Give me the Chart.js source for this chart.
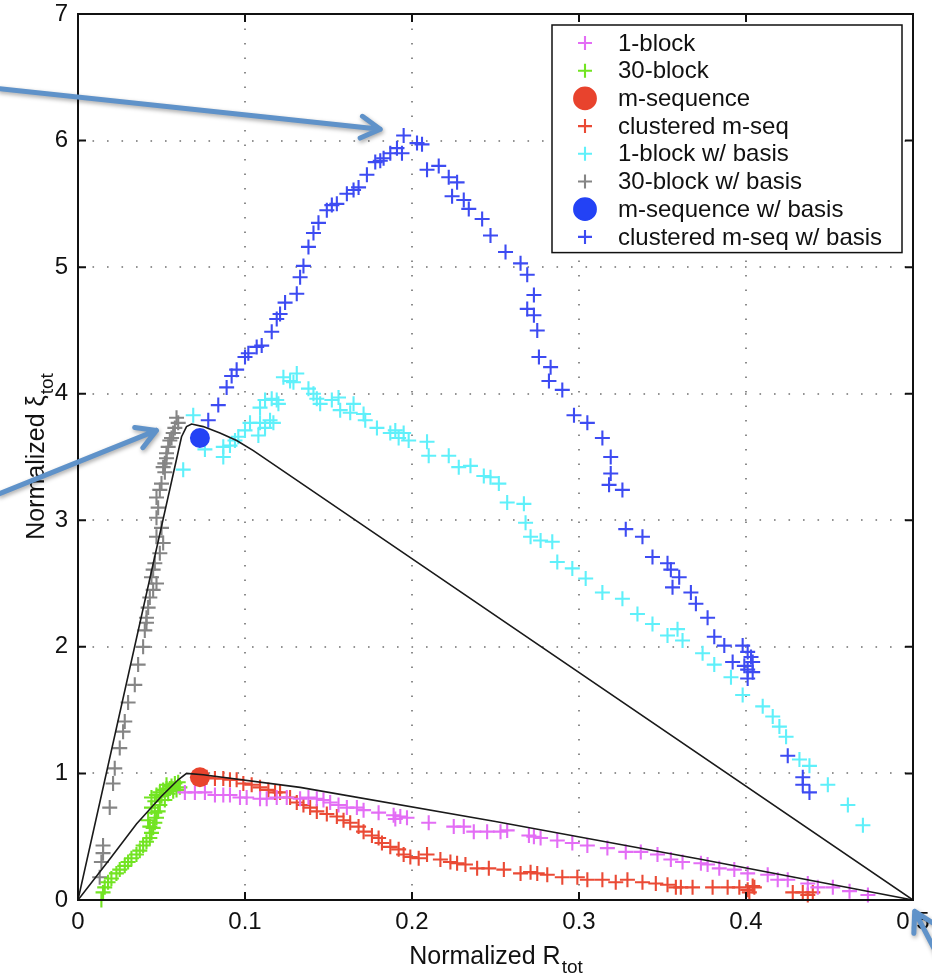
<!DOCTYPE html>
<html>
<head>
<meta charset="utf-8">
<script src="https://cdn.jsdelivr.net/npm/chart.js@4.4.1/dist/chart.umd.min.js"></script>
<style>
  html, body { margin: 0; padding: 0; background: #fff; }
  #wrap { width: 932px; height: 978px; }
</style>
</head>
<body>
<div id="wrap"><canvas id="chart" width="932" height="978"></canvas></div>
<script>
// axis ticks
const xTicks = [0, 0.1, 0.2, 0.3, 0.4, 0.5];
const yTicks = [0, 1, 2, 3, 4, 5, 6, 7];

// series as [R, xi]
const oneBlock = [
  [0.064,0.85],[0.070,0.85],[0.076,0.85],[0.082,0.83],[0.087,0.83],[0.091,0.83],[0.097,0.81],[0.101,0.81],
  [0.109,0.80],[0.113,0.80],[0.119,0.81],[0.125,0.81],[0.133,0.80],[0.138,0.81],[0.143,0.80],[0.147,0.79],
  [0.151,0.77],[0.156,0.75],[0.161,0.73],[0.167,0.73],[0.171,0.71],[0.180,0.69],[0.189,0.67],[0.190,0.64],
  [0.193,0.66],[0.197,0.65],[0.210,0.61],[0.225,0.58],[0.231,0.58],[0.237,0.54],[0.245,0.54],[0.253,0.54],
  [0.257,0.55],[0.270,0.51],[0.273,0.50],[0.277,0.49],[0.287,0.47],[0.296,0.45],[0.305,0.43],[0.317,0.41],
  [0.328,0.38],[0.337,0.38],[0.347,0.36],[0.355,0.32],[0.362,0.30],[0.373,0.29],[0.377,0.28],[0.384,0.25],
  [0.393,0.24],[0.401,0.21],[0.413,0.20],[0.419,0.16],[0.425,0.16],[0.437,0.13],[0.443,0.10],[0.452,0.10],
  [0.462,0.07],[0.473,0.04]
];
const thirtyBlock = [
  [0.014,0.00],[0.015,0.06],[0.016,0.10],[0.018,0.14],[0.020,0.17],[0.023,0.21],[0.025,0.24],[0.028,0.27],
  [0.030,0.30],[0.032,0.33],[0.035,0.36],[0.037,0.39],[0.039,0.43],[0.041,0.46],[0.043,0.49],[0.044,0.53],
  [0.045,0.57],[0.046,0.61],[0.047,0.65],[0.046,0.69],[0.044,0.73],[0.048,0.70],[0.049,0.75],[0.044,0.81],
  [0.047,0.83],[0.049,0.85],[0.051,0.87],[0.053,0.88],[0.054,0.84],[0.055,0.88],[0.056,0.90],[0.058,0.92],
  [0.060,0.93],[0.061,0.89],[0.059,0.87],[0.052,0.79],[0.042,0.63],[0.043,0.58],[0.050,0.82],[0.057,0.86],
  [0.053,0.91],[0.046,0.78]
];
const mSeq = [[0.073,0.97]];
const clusteredMSeq = [
  [0.077,0.97],[0.082,0.96],[0.087,0.96],[0.091,0.95],[0.095,0.95],[0.099,0.92],[0.104,0.91],[0.109,0.89],
  [0.114,0.87],[0.118,0.85],[0.121,0.85],[0.127,0.81],[0.131,0.77],[0.135,0.75],[0.139,0.73],[0.143,0.70],
  [0.149,0.68],[0.155,0.66],[0.159,0.63],[0.163,0.61],[0.168,0.58],[0.171,0.54],[0.176,0.51],[0.180,0.49],
  [0.182,0.45],[0.187,0.42],[0.192,0.40],[0.195,0.36],[0.199,0.34],[0.204,0.33],[0.209,0.36],[0.217,0.32],
  [0.223,0.30],[0.227,0.29],[0.232,0.28],[0.239,0.25],[0.246,0.25],[0.255,0.24],[0.265,0.21],[0.271,0.22],
  [0.275,0.21],[0.281,0.20],[0.290,0.18],[0.299,0.18],[0.305,0.16],[0.314,0.16],[0.322,0.14],[0.329,0.16],
  [0.338,0.14],[0.346,0.13],[0.353,0.12],[0.358,0.10],[0.361,0.10],[0.368,0.10],[0.380,0.10],[0.389,0.10],
  [0.396,0.10],[0.401,0.08],[0.402,0.06],[0.405,0.10],[0.404,0.11],[0.428,0.06],[0.434,0.06],[0.437,0.04],
  [0.440,0.06]
];
const oneBlockBasis = [
  [0.063,3.40],[0.069,3.83],[0.076,3.56],[0.087,3.50],[0.087,3.58],[0.091,3.59],[0.094,3.63],[0.096,3.66],
  [0.100,3.71],[0.103,3.77],[0.108,3.67],[0.109,3.77],[0.112,3.73],[0.115,3.79],[0.117,3.77],[0.109,3.89],
  [0.112,3.95],[0.116,3.96],[0.119,3.95],[0.120,3.92],[0.123,4.13],[0.127,4.10],[0.131,4.16],[0.129,4.09],
  [0.138,4.04],[0.141,4.00],[0.143,3.96],[0.145,3.92],[0.152,3.95],[0.156,3.97],[0.157,3.87],[0.163,3.85],
  [0.165,3.92],[0.171,3.84],[0.172,3.79],[0.179,3.73],[0.187,3.69],[0.190,3.71],[0.192,3.65],[0.195,3.69],
  [0.198,3.63],[0.209,3.62],[0.210,3.51],[0.222,3.51],[0.228,3.42],[0.235,3.43],[0.243,3.35],[0.247,3.34],
  [0.252,3.29],[0.257,3.14],[0.267,3.13],[0.268,2.98],[0.271,2.87],[0.277,2.84],[0.284,2.83],[0.287,2.67],
  [0.296,2.62],[0.304,2.54],[0.314,2.43],[0.326,2.38],[0.335,2.26],[0.344,2.18],[0.353,2.09],[0.359,2.14],
  [0.362,2.05],[0.374,1.95],[0.381,1.86],[0.391,1.76],[0.398,1.62],[0.410,1.53],[0.416,1.45],[0.420,1.37],
  [0.424,1.29],[0.432,1.11],[0.438,1.06],[0.449,0.91],[0.461,0.75],[0.470,0.59]
];
const thirtyBlockBasis = [
  [0.060,3.77],[0.059,3.81],[0.058,3.73],[0.057,3.69],[0.056,3.65],[0.055,3.63],[0.054,3.58],[0.053,3.53],
  [0.053,3.49],[0.052,3.45],[0.051,3.42],[0.052,3.38],[0.050,3.29],[0.049,3.24],[0.047,3.18],[0.048,3.10],
  [0.047,3.02],[0.050,2.94],[0.047,2.87],[0.051,2.82],[0.049,2.74],[0.046,2.66],[0.045,2.61],[0.044,2.55],
  [0.047,2.50],[0.045,2.45],[0.043,2.39],[0.042,2.31],[0.041,2.23],[0.041,2.19],[0.040,2.13],[0.039,2.00],
  [0.036,1.86],[0.034,1.70],[0.030,1.56],[0.028,1.41],[0.027,1.33],[0.025,1.20],[0.022,1.04],[0.021,0.92],
  [0.019,0.73],[0.015,0.43],[0.015,0.37],[0.014,0.30],[0.013,0.18]
];
const mSeqBasis = [[0.073,3.65]];
const clusteredMSeqBasis = [
  [0.078,3.79],[0.084,3.91],[0.089,4.05],[0.092,4.14],[0.095,4.19],[0.100,4.29],[0.102,4.32],[0.107,4.37],
  [0.110,4.38],[0.116,4.49],[0.119,4.59],[0.121,4.63],[0.124,4.72],[0.131,4.79],[0.133,4.92],[0.135,5.01],
  [0.138,5.16],[0.141,5.27],[0.144,5.35],[0.149,5.45],[0.152,5.49],[0.155,5.50],[0.161,5.58],[0.165,5.61],
  [0.168,5.63],[0.173,5.73],[0.178,5.83],[0.181,5.84],[0.183,5.86],[0.187,5.90],[0.191,5.94],[0.194,5.90],
  [0.195,6.04],[0.203,5.98],[0.206,5.97],[0.209,5.77],[0.216,5.80],[0.222,5.71],[0.227,5.67],[0.224,5.56],
  [0.231,5.53],[0.234,5.46],[0.242,5.38],[0.247,5.25],[0.256,5.12],[0.265,5.03],[0.269,4.94],[0.273,4.78],
  [0.269,4.67],[0.273,4.62],[0.275,4.50],[0.276,4.29],[0.283,4.21],[0.282,4.10],[0.290,4.03],[0.297,3.83],
  [0.305,3.77],[0.314,3.65],[0.319,3.50],[0.319,3.37],[0.318,3.28],[0.326,3.24],[0.328,2.93],[0.338,2.87],
  [0.344,2.71],[0.353,2.66],[0.355,2.61],[0.360,2.55],[0.356,2.47],[0.367,2.43],[0.370,2.34],[0.377,2.23],
  [0.381,2.08],[0.387,2.01],[0.398,2.01],[0.401,1.96],[0.392,1.88],[0.404,1.88],[0.401,1.82],[0.404,1.80],
  [0.401,1.75],[0.403,1.92],[0.399,1.85],[0.425,1.14],[0.434,0.97],[0.434,0.91],[0.438,0.85]
];

// the two black bounding curves
const boundOuter = [
  [0,0],[0.062,3.66],[0.065,3.74],[0.068,3.76],[0.075,3.74],[0.085,3.69],[0.095,3.63],[0.105,3.55],[0.5,0]
];
const boundInner = [
  [0,0],[0.020,0.34],[0.035,0.60],[0.050,0.82],[0.060,0.95],[0.065,1.0],[0.075,0.99],[0.133,0.89],
  [0.250,0.62],[0.3736,0.32],[0.5,0]
];

// annotation arrows [tail, tip] in data units
const arrows = [
  [[-0.047, 6.41], [0.181, 6.09]],
  [[-0.047, 3.21], [0.047, 3.71]],
  [[0.524, -0.67], [0.501, -0.09]]
];

const FONT = '"Liberation Sans", Arial, Helvetica, sans-serif';
const pts = arr => arr.map(p => ({ x: p[0], y: p[1] }));

function cross(label, data, color) {
  return { label, data: pts(data), pointStyle: 'cross', pointRadius: 7.5, pointBorderWidth: 2.1,
    borderColor: color, backgroundColor: color, showLine: false, clip: false, order: 2 };
}
function dot(label, data, color) {
  return { label, data: pts(data), pointStyle: 'circle', pointRadius: 10, pointBorderWidth: 0,
    borderColor: color, backgroundColor: color, showLine: false, clip: false, order: 1 };
}
function bound(data) {
  return { type: 'line', data: pts(data), borderColor: '#1a1a1a', borderWidth: 1.6,
    pointRadius: 0, tension: 0, fill: false, noLegend: true, order: 0 };
}

const datasets = [
  cross('1-block', oneBlock, '#e36df5'),
  cross('30-block', thirtyBlock, '#72e422'),
  dot('m-sequence', mSeq, '#e8432d'),
  cross('clustered m-seq', clusteredMSeq, '#ea4a35'),
  cross('1-block w/ basis', oneBlockBasis, '#5ff0fa'),
  cross('30-block w/ basis', thirtyBlockBasis, '#858585'),
  dot('m-sequence w/ basis', mSeqBasis, '#2342f5'),
  cross('clustered m-seq w/ basis', clusteredMSeqBasis, '#3d4bf2'),
  bound(boundOuter),
  bound(boundInner)
];

// dotted grid under the data
const gridPlugin = {
  id: 'gridPlugin',
  beforeDatasetsDraw(chart) {
    const { ctx, chartArea: a, scales: { x, y } } = chart;
    ctx.save();
    ctx.strokeStyle = '#707070';
    ctx.lineWidth = 1.6;
    ctx.setLineDash([1.6, 12.9]);
    ctx.beginPath();
    xTicks.slice(1, -1).forEach(v => {
      const px = Math.round(x.getPixelForValue(v));
      ctx.moveTo(px, a.bottom); ctx.lineTo(px, a.top);
    });
    yTicks.slice(1, -1).forEach(v => {
      const py = Math.round(y.getPixelForValue(v));
      ctx.moveTo(a.left, py); ctx.lineTo(a.right, py);
    });
    ctx.stroke();
    ctx.restore();
  }
};

// box and inward tick marks, matlab style
const framePlugin = {
  id: 'framePlugin',
  afterDatasetsDraw(chart) {
    const { ctx, chartArea: a, scales: { x, y } } = chart;
    ctx.save();
    ctx.strokeStyle = '#111';
    ctx.lineWidth = 2;
    ctx.strokeRect(a.left, a.top, a.right - a.left, a.bottom - a.top);
    const tl = 8;
    ctx.beginPath();
    xTicks.forEach(v => {
      const px = x.getPixelForValue(v);
      ctx.moveTo(px, a.bottom); ctx.lineTo(px, a.bottom - tl);
      ctx.moveTo(px, a.top); ctx.lineTo(px, a.top + tl);
    });
    yTicks.forEach(v => {
      const py = y.getPixelForValue(v);
      ctx.moveTo(a.left, py); ctx.lineTo(a.left + tl, py);
      ctx.moveTo(a.right, py); ctx.lineTo(a.right - tl, py);
    });
    ctx.stroke();
    ctx.restore();
  }
};

function subText(ctx, main, sub, x, y) {
  ctx.font = '25px ' + FONT;
  const w1 = ctx.measureText(main).width;
  ctx.font = '19px ' + FONT;
  const w2 = ctx.measureText(sub).width;
  const start = x - (w1 + w2) / 2;
  ctx.textAlign = 'left';
  ctx.textBaseline = 'alphabetic';
  ctx.font = '25px ' + FONT;
  ctx.fillText(main, start, y);
  ctx.font = '19px ' + FONT;
  ctx.fillText(sub, start + w1 + 1, y + 9);
}

const titlesPlugin = {
  id: 'titlesPlugin',
  afterDraw(chart) {
    const { ctx, chartArea: a } = chart;
    ctx.save();
    ctx.fillStyle = '#111';
    subText(ctx, 'Normalized R', 'tot', (a.left + a.right) / 2, 964);
    ctx.translate(44, (a.top + a.bottom) / 2);
    ctx.rotate(-Math.PI / 2);
    subText(ctx, 'Normalized \u03be', 'tot', 0, 0);
    ctx.restore();
  }
};

const legendPlugin = {
  id: 'legendPlugin',
  afterDraw(chart) {
    const { ctx, chartArea: a } = chart;
    const items = chart.data.datasets.filter(d => !d.noLegend);
    const w = 350, rowH = 27.7;
    const h = items.length * rowH + 6;
    const left = a.right - 11 - w, top = a.top + 11;
    ctx.save();
    ctx.fillStyle = '#fff';
    ctx.strokeStyle = '#111';
    ctx.lineWidth = 1.5;
    ctx.fillRect(left, top, w, h);
    ctx.strokeRect(left, top, w, h);
    ctx.font = '24px ' + FONT;
    ctx.textBaseline = 'middle';
    ctx.textAlign = 'left';
    items.forEach((d, i) => {
      const cy = top + 18 + i * rowH;
      ctx.strokeStyle = d.borderColor;
      ctx.fillStyle = d.backgroundColor;
      ctx.lineWidth = d.pointBorderWidth || 1.8;
      const r = d.pointStyle === 'circle' ? 11 : 7;
      Chart.helpers.drawPoint(ctx, { pointStyle: d.pointStyle, radius: r, rotation: 0, borderWidth: ctx.lineWidth }, left + 33, cy);
      ctx.fillStyle = '#111';
      ctx.fillText(d.label, left + 66, cy + 1);
    });
    ctx.restore();
  }
};

const arrowPlugin = {
  id: 'arrowPlugin',
  afterDraw(chart) {
    const { ctx, scales: { x, y } } = chart;
    ctx.save();
    ctx.strokeStyle = '#5f92c9';
    ctx.lineWidth = 5;
    ctx.lineCap = 'round';
    ctx.lineJoin = 'round';
    ctx.shadowColor = 'rgba(0,0,0,0.35)';
    ctx.shadowBlur = 4;
    ctx.shadowOffsetX = 1;
    ctx.shadowOffsetY = 2;
    arrows.forEach(([t, h]) => {
      const x0 = x.getPixelForValue(t[0]), y0 = y.getPixelForValue(t[1]);
      const x1 = x.getPixelForValue(h[0]), y1 = y.getPixelForValue(h[1]);
      const ang = Math.atan2(y1 - y0, x1 - x0);
      ctx.beginPath();
      ctx.moveTo(x0, y0);
      ctx.lineTo(x1, y1);
      [-1, 1].forEach(s => {
        const b = ang + Math.PI + s * 0.52;
        ctx.moveTo(x1, y1);
        ctx.lineTo(x1 + 22 * Math.cos(b), y1 + 22 * Math.sin(b));
      });
      ctx.stroke();
    });
    ctx.restore();
  }
};

new Chart(document.getElementById('chart'), {
  type: 'scatter',
  data: { datasets },
  options: {
    responsive: false,
    animation: false,
    devicePixelRatio: 1,
    layout: { padding: { top: 14, right: 19, left: 0, bottom: 0 } },
    plugins: { legend: { display: false }, tooltip: { enabled: false } },
    scales: {
      x: {
        type: 'linear', min: 0, max: 0.5,
        afterBuildTicks: s => { s.ticks = xTicks.map(v => ({ value: v })); },
        afterFit: s => { s.height = 78; s.paddingLeft = 0; s.paddingRight = 0; },
        grid: { display: false, drawTicks: false },
        border: { display: false },
        ticks: { font: { family: FONT, size: 24 }, color: '#111', padding: 8, maxRotation: 0,
          callback: v => String(+v.toFixed(1)) }
      },
      y: {
        type: 'linear', min: 0, max: 7,
        afterBuildTicks: s => { s.ticks = yTicks.map(v => ({ value: v })); },
        afterFit: s => { s.width = 78; s.paddingTop = 0; s.paddingBottom = 0; },
        grid: { display: false, drawTicks: false },
        border: { display: false },
        ticks: { font: { family: FONT, size: 24 }, color: '#111', padding: 10,
          callback: v => String(v) }
      }
    }
  },
  plugins: [gridPlugin, framePlugin, titlesPlugin, legendPlugin, arrowPlugin]
});
</script>
</body>
</html>
